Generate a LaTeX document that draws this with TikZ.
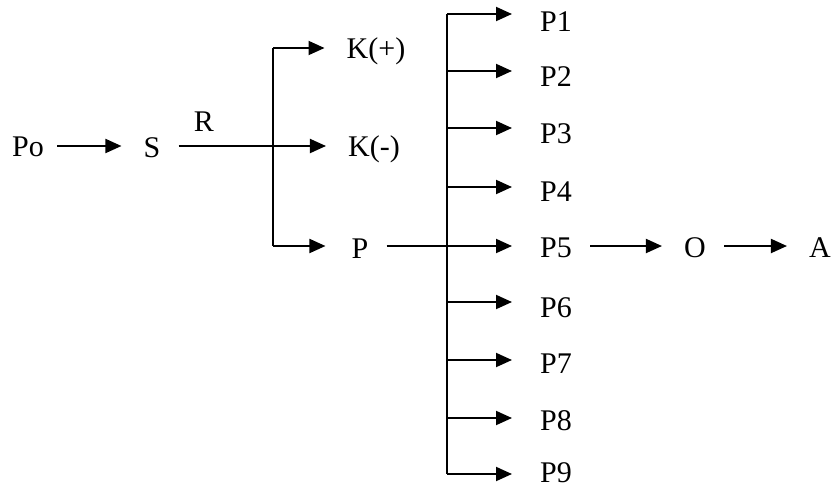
\documentclass[tikz,border=0pt]{standalone}
\usepackage{fontspec}
\setmainfont{Liberation Serif}
\usetikzlibrary{arrows.meta}

\tikzset{
  lbl/.style={inner sep=0pt, font=\fontsize{30}{36}\selectfont},
  wire/.style={line width=1.9pt},
  arr/.style={wire, -{Triangle[length=16pt,width=14pt]}, shorten >=22pt},
  lead/.style={shorten <=18pt},
}

\begin{document}
\begin{tikzpicture}[x=1pt,y=1pt,yscale=-1,xscale=1]
\useasboundingbox (0,0) rectangle (831,488);

% Text Node
\node[lbl] (Po) at (28,147) {Po};
% Text Node
\node[lbl] (S) at (152,148) {S};
% Text Node
\node[lbl] (R) at (204,122) {R};
% Text Node
\node[lbl] (Kp) at (376,51) {K(+)};
% Text Node
\node[lbl] (Km) at (374,149) {K(-)};
% Text Node
\node[lbl] (P) at (360,249) {P};
% Text Node
\node[lbl, anchor=west] (P1) at (540,22) {P1};
% Text Node
\node[lbl, anchor=west] (P2) at (540,77) {P2};
% Text Node
\node[lbl, anchor=west] (P3) at (540,134) {P3};
% Text Node
\node[lbl, anchor=west] (P4) at (540,192) {P4};
% Text Node
\node[lbl, anchor=west] (P5) at (540,248) {P5};
% Text Node
\node[lbl, anchor=west] (P6) at (540,308) {P6};
% Text Node
\node[lbl, anchor=west] (P7) at (540,364) {P7};
% Text Node
\node[lbl, anchor=west] (P8) at (540,421) {P8};
% Text Node
\node[lbl, anchor=west] (P9) at (540,473) {P9};
% Text Node
\node[lbl] (O) at (695,248) {O};
% Text Node
\node[lbl] (A) at (820,248) {A};

% Junction
\coordinate (cKp) at (273,48);
\coordinate (cKm) at (273,146);
\coordinate (cP) at (273,246);
\coordinate (b1) at (447,14);
\coordinate (b2) at (447,71);
\coordinate (b3) at (447,128);
\coordinate (b4) at (447,187);
\coordinate (b5) at (447,246);
\coordinate (b6) at (447,302);
\coordinate (b7) at (447,360);
\coordinate (b8) at (447,418);
\coordinate (b9) at (447,474);

% Connection
\draw[arr, shorten <=13pt] (Po.east |- cKm) -- (cKm -| S.west);
% Connection
\draw[arr, lead] (S.east |- cKm) -- (cKm -| Km.west);
% Connection
\draw[wire] (cKp) -- (cP);
% Connection
\draw[arr] (cKp) -- (cKp -| Kp.west);
% Connection
\draw[arr, shorten >=26pt] (cP) -- (cP -| P.west);
% Connection
\draw[wire, lead] (P.east |- cP) -- (b5);
% Connection
\draw[wire] (b1) -- (b9);
% Connection
\draw[arr, shorten >=28pt] (b1) -- (b1 -| P1.west);
% Connection
\draw[arr, shorten >=28pt] (b2) -- (b2 -| P2.west);
% Connection
\draw[arr, shorten >=28pt] (b3) -- (b3 -| P3.west);
% Connection
\draw[arr, shorten >=28pt] (b4) -- (b4 -| P4.west);
% Connection
\draw[arr, shorten >=28pt] (b5) -- (b5 -| P5.west);
% Connection
\draw[arr, shorten >=28pt] (b6) -- (b6 -| P6.west);
% Connection
\draw[arr, shorten >=28pt] (b7) -- (b7 -| P7.west);
% Connection
\draw[arr, shorten >=28pt] (b8) -- (b8 -| P8.west);
% Connection
\draw[arr, shorten >=28pt] (b9) -- (b9 -| P9.west);
% Connection
\draw[arr, lead] (P5.east |- b5) -- (b5 -| O.west);
% Connection
\draw[arr, lead] (O.east |- b5) -- (b5 -| A.west);

\end{tikzpicture}
\end{document}
